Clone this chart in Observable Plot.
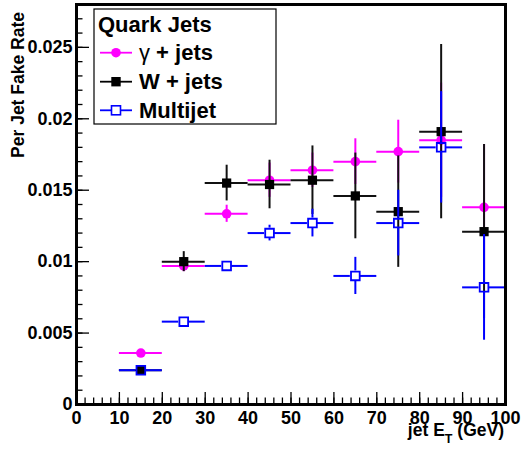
<!DOCTYPE html>
<html>
<head>
<meta charset="utf-8">
<script src="https://cdn.jsdelivr.net/npm/d3@7"></script>
<script src="https://cdn.jsdelivr.net/npm/@observablehq/plot@0.6"></script>
<style>
  html, body { margin: 0; padding: 0; background: #fff; }
  #chart { width: 521px; height: 450px; }
</style>
</head>
<body>
<div id="chart"></div>
<script>
// ---- data ----
const etBins = [15, 25, 35, 45, 55, 65, 75, 85, 95];
const binHalfWidth = 5;

const gammaRate = [0.0036, 0.0097, 0.01335, 0.0157, 0.0164, 0.0170, 0.0177, 0.0185, 0.0138];
const gammaErr  = [0.0002, 0.0004, 0.0006, 0.0012, 0.0012, 0.0016, 0.0022, 0.0040, 0.0044];

const wRate = [0.0024, 0.0100, 0.0155, 0.0154, 0.0157, 0.0146, 0.0135, 0.0191, 0.0121];
const wErr  = [0.0002, 0.0007, 0.00125, 0.0017, 0.0024, 0.0030, 0.0039, 0.0061, 0.0061];

const multiRate = [0.0024, 0.0058, 0.0097, 0.0120, 0.0127, 0.0090, 0.0127, 0.0180, 0.0082];
const multiErr  = [0.0001, 0.0002, 0.0003, 0.00055, 0.00097, 0.0013, 0.0023, 0.0039, 0.0037];

const xTicks = [0, 10, 20, 30, 40, 50, 60, 70, 80, 90, 100];
const yTicks = [0, 0.005, 0.01, 0.015, 0.02, 0.025];

const legendTitle = "Quark Jets";
const seriesNames = ["γ + jets", "W + jets", "Multijet"];
const xLabelMain = "jet E";
const xLabelSub = "T";
const xLabelUnit = " (GeV)";
const yLabel = "Per Jet Fake Rate";

// ---- layout ----
const W = 521, H = 450;
const mL = 76, mR = 16, mT = 4, mB = 46;
const frameW = W - mL - mR, frameH = H - mT - mB;
const FONT = "'Liberation Sans', Arial, Helvetica, sans-serif";
const MAGENTA = "#ff00ff", BLUE = "#0000ff", BLACK = "#000000";

function rows(rate, err) {
  return etBins.map((x, i) => ({x, y: rate[i], e: err[i]}));
}

function solidBars(data, color, sw) {
  return [
    Plot.ruleY(data, {y: "y", x1: d => d.x - binHalfWidth, x2: d => d.x + binHalfWidth, stroke: color, strokeWidth: sw}),
    Plot.ruleX(data, {x: "x", y1: d => d.y - d.e, y2: d => d.y + d.e, stroke: color, strokeWidth: sw})
  ];
}

function gappedBars(data, color, sw, gap, minErr) {
  const vert = data.filter(d => d.e > minErr);
  return [
    Plot.ruleY(data, {y: "y", x1: d => d.x - binHalfWidth, x2: d => d.x, insetRight: gap, stroke: color, strokeWidth: sw}),
    Plot.ruleY(data, {y: "y", x1: d => d.x, x2: d => d.x + binHalfWidth, insetLeft: gap, stroke: color, strokeWidth: sw}),
    Plot.ruleX(vert, {x: "x", y1: d => d.y + d.e, y2: d => d.y, insetBottom: gap, stroke: color, strokeWidth: sw}),
    Plot.ruleX(vert, {x: "x", y1: d => d.y, y2: d => d.y - d.e, insetTop: gap, stroke: color, strokeWidth: sw})
  ];
}

const gData = rows(gammaRate, gammaErr);
const wData = rows(wRate, wErr);
const mData = rows(multiRate, multiErr);

const yMinor = d3.range(0, 0.02801, 0.001);
const xMinor = d3.range(0, 100.01, 2);

const svg = Plot.plot({
  width: W, height: H,
  marginLeft: mL, marginRight: mR, marginTop: mT, marginBottom: mB,
  style: {fontFamily: FONT, fontWeight: "bold", fontSize: "18px", color: "#000", background: "#fff", overflow: "visible"},
  x: {domain: [0, 100], label: null},
  y: {domain: [0, 0.028], label: null},
  marks: [
    // tick marks drawn inside the frame
    Plot.ruleY(yMinor, {y: d => d, insetRight: frameW - 6.5, stroke: BLACK, strokeWidth: 1.3}),
    Plot.ruleY(yTicks, {y: d => d, insetRight: frameW - 13, stroke: BLACK, strokeWidth: 1.3}),
    Plot.ruleX(xMinor, {x: d => d, insetTop: frameH - 6.5, stroke: BLACK, strokeWidth: 1.3}),
    Plot.ruleX(xTicks, {x: d => d, insetTop: frameH - 12, stroke: BLACK, strokeWidth: 1.3}),
    Plot.axisY({ticks: yTicks, tickSize: 0, tickPadding: 4, tickFormat: d => d === 0 ? "0" : String(+d.toFixed(3)), label: null}),
    Plot.axisX({ticks: xTicks, tickSize: 0, tickPadding: 7, tickFormat: d => String(d), label: null}),
    // gamma + jets
    ...solidBars(gData, MAGENTA, 2),
    Plot.dot(gData, {x: "x", y: "y", r: 4.8, fill: MAGENTA, stroke: "none", symbol: "circle"}),
    // W + jets
    ...solidBars(wData, "#111", 2),
    Plot.dot(wData, {x: "x", y: "y", r: 5.2, fill: BLACK, stroke: "none", symbol: "square"}),
    // Multijet (open squares, error bars stop at the marker)
    ...gappedBars(mData, BLUE, 2, 5, 0.0004),
    Plot.dot(mData, {x: "x", y: "y", r: 4.9, fill: "none", stroke: BLUE, strokeWidth: 1.8, symbol: "square"}),
    Plot.frame({stroke: BLACK, strokeWidth: 3})
  ]
});

document.getElementById("chart").appendChild(svg);

// ---- axis titles and legend (text inside the SVG) ----
const s = d3.select(svg);

s.append("text")
  .attr("transform", "translate(24,12) rotate(-90)")
  .attr("text-anchor", "end")
  .attr("font-family", FONT).attr("font-weight", "bold").attr("font-size", 17.5)
  .text(yLabel);

const xl = s.append("text")
  .attr("x", 504).attr("y", 436)
  .attr("text-anchor", "end")
  .attr("font-family", FONT).attr("font-weight", "bold").attr("font-size", 17.5);
xl.append("tspan").text(xLabelMain);
xl.append("tspan").attr("dy", 7).attr("font-size", 12.5).text(xLabelSub);
xl.append("tspan").attr("dy", -7).text(xLabelUnit);

const lg = s.append("g").attr("text-anchor", "start");
lg.append("rect")
  .attr("x", 94).attr("y", 9).attr("width", 182).attr("height", 115)
  .attr("fill", "#fff").attr("stroke", BLACK).attr("stroke-width", 1.2);
lg.append("text")
  .attr("x", 98).attr("y", 32)
  .attr("text-anchor", "start")
  .attr("font-family", FONT).attr("font-weight", "bold").attr("font-size", 22)
  .text(legendTitle);

const rowY = [52.7, 81.7, 110.3];
const rowColor = [MAGENTA, BLACK, BLUE];
rowY.forEach((yy, i) => {
  const c = rowColor[i];
  if (i === 2) {
    lg.append("line").attr("x1", 100).attr("x2", 111).attr("y1", yy).attr("y2", yy).attr("stroke", c).attr("stroke-width", 1.8);
    lg.append("line").attr("x1", 121).attr("x2", 132).attr("y1", yy).attr("y2", yy).attr("stroke", c).attr("stroke-width", 1.8);
    lg.append("rect").attr("x", 111.5).attr("y", yy - 4.5).attr("width", 9).attr("height", 9)
      .attr("fill", "none").attr("stroke", c).attr("stroke-width", 1.6);
  } else {
    lg.append("line").attr("x1", 100).attr("x2", 132).attr("y1", yy).attr("y2", yy).attr("stroke", c).attr("stroke-width", 1.8);
    if (i === 0) {
      lg.append("circle").attr("cx", 116).attr("cy", yy).attr("r", 4.8).attr("fill", c);
    } else {
      lg.append("rect").attr("x", 111.3).attr("y", yy - 4.7).attr("width", 9.4).attr("height", 9.4).attr("fill", c);
    }
  }
  const t = lg.append("text")
    .attr("x", 139).attr("y", yy + 7.5)
    .attr("text-anchor", "start")
    .attr("font-family", FONT).attr("font-weight", "bold").attr("font-size", 22);
  if (i === 0) {
    t.append("tspan").attr("font-weight", "normal").text("γ");
    t.append("tspan").text(" + jets");
  } else {
    t.text(seriesNames[i]);
  }
});
</script>
</body>
</html>
